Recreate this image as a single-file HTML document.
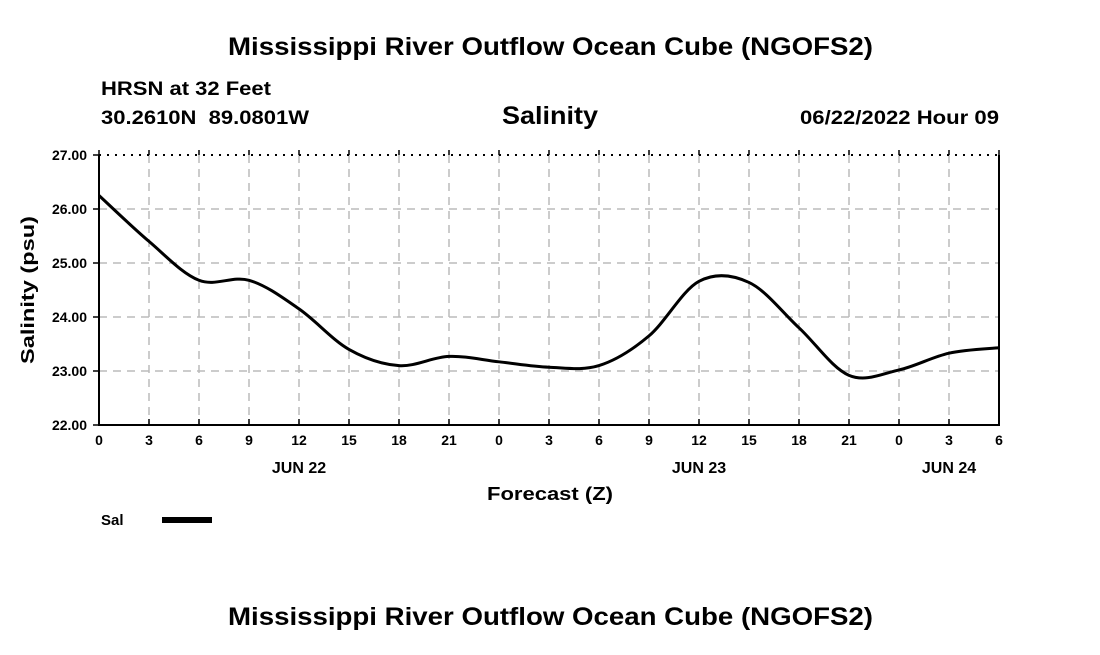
<!DOCTYPE html>
<html><head><meta charset="utf-8"><style>
body{margin:0;background:#fff;width:1100px;height:650px;overflow:hidden;font-family:"Liberation Sans",sans-serif}
</style></head><body>
<svg width="1100" height="650" font-family="Liberation Sans, sans-serif" font-weight="bold">
<text x="228" y="55" font-size="25" textLength="645" lengthAdjust="spacingAndGlyphs">Mississippi River Outflow Ocean Cube (NGOFS2)</text>
<text x="101" y="95" font-size="19" textLength="170" lengthAdjust="spacingAndGlyphs">HRSN at 32 Feet</text>
<text x="101" y="124" font-size="19" textLength="208" lengthAdjust="spacingAndGlyphs">30.2610N &#160;89.0801W</text>
<text x="502" y="124" font-size="25" textLength="96" lengthAdjust="spacingAndGlyphs">Salinity</text>
<text x="800" y="124" font-size="19" textLength="199" lengthAdjust="spacingAndGlyphs">06/22/2022 Hour 09</text>
<g id="grid"></g><g id="axes"></g>
<text transform="translate(34,290) rotate(-90)" text-anchor="middle" font-size="18" textLength="148" lengthAdjust="spacingAndGlyphs">Salinity (psu)</text>
<text x="487" y="500" font-size="18" textLength="126" lengthAdjust="spacingAndGlyphs">Forecast (Z)</text>
<text x="101" y="525" font-size="15">Sal</text>
<rect x="162" y="517" width="50" height="6" fill="#000"/>
<text x="228" y="625" font-size="25" textLength="645" lengthAdjust="spacingAndGlyphs">Mississippi River Outflow Ocean Cube (NGOFS2)</text>
</svg>
<script>
const hours=[0,3,6,9,12,15,18,21,24,27,30,33,36,39,42,45,48,51,54];
const sal=[26.25,25.4,24.68,24.68,24.15,23.4,23.1,23.27,23.17,23.07,23.1,23.65,24.66,24.64,23.8,22.92,23.02,23.33,23.43];
const xTicks=["0","3","6","9","12","15","18","21","0","3","6","9","12","15","18","21","0","3","6"];
const yTicks=[22,23,24,25,26,27];
const dayLabels=[{h:12,t:"JUN 22"},{h:36,t:"JUN 23"},{h:51,t:"JUN 24"}];
const NS="http://www.w3.org/2000/svg";
const X0=99,X1=999,Y0=425,Y1=155;
const xs=h=>X0+(h/54)*(X1-X0), ys=v=>Y0-(v-22)/5*(Y0-Y1);
const svgEl=document.querySelector('svg'),gridG=document.getElementById('grid'),axesG=document.getElementById('axes');
function mk(tag,attrs,parent){const e=document.createElementNS(NS,tag);for(const k in attrs)e.setAttribute(k,attrs[k]);parent.appendChild(e);return e;}
xTicks.forEach((t,i)=>{const x=xs(i*3);
 if(i>0&&i<18){const l=mk('line',{x1:x,x2:x,y1:Y1,y2:Y0,stroke:'#bbb','stroke-width':1.5,'stroke-dasharray':'8,6'},gridG);
 
 }
 const tk=mk('line',{x1:x,x2:x,y1:Y0,y2:Y0-6,stroke:'#000','stroke-width':1.5},axesG);
 
 
 const tk2=mk('line',{x1:x,x2:x,y1:Y1,y2:Y1-5,stroke:'#000','stroke-width':1.5},axesG);
 
 
 const tx=mk('text',{x:x,y:Y0+20,'text-anchor':'middle','font-size':14},axesG);tx.textContent=t;
 
 });
dayLabels.forEach(d=>{const tx=mk('text',{x:xs(d.h),y:Y0+48,'text-anchor':'middle','font-size':16},axesG);tx.textContent=d.t;
 
 });
yTicks.forEach(v=>{const y=ys(v);
 if(v>22&&v<27){const l=mk('line',{x1:X0,x2:X1,y1:y,y2:y,stroke:'#bbb','stroke-width':1.5,'stroke-dasharray':'8,6'},gridG);
 
 }
 const tk=mk('line',{x1:X0-6,x2:X0,y1:y,y2:y,stroke:'#000','stroke-width':1.5},axesG);
 
 
 const tx=mk('text',{x:X0-12,y:y+5,'text-anchor':'end','font-size':14},axesG);tx.textContent=v.toFixed(2);
 
 });
const topBorder=mk('line',{x1:X0,x2:X1,y1:Y1,y2:Y1,stroke:'#000','stroke-width':2,'stroke-dasharray':'2,6'},axesG);


const frame=mk('path',{d:`M${X0},${Y1}V${Y0}H${X1}V${Y1}`,fill:'none',stroke:'#000','stroke-width':2},axesG);


const P=hours.map((h,i)=>[xs(h),ys(sal[i])]);
let d=`M${P[0][0]},${P[0][1]}`;
for(let i=0;i<P.length-1;i++){const p0=P[i-1]||P[i],p1=P[i],p2=P[i+1],p3=P[i+2]||P[i+1];
 d+=`C${p1[0]+(p2[0]-p0[0])/6},${p1[1]+(p2[1]-p0[1])/6} ${p2[0]-(p3[0]-p1[0])/6},${p2[1]-(p3[1]-p1[1])/6} ${p2[0]},${p2[1]}`;}
const line=mk('path',{d:d,fill:'none',stroke:'#000','stroke-width':3},svgEl);


</script>
</body></html>
